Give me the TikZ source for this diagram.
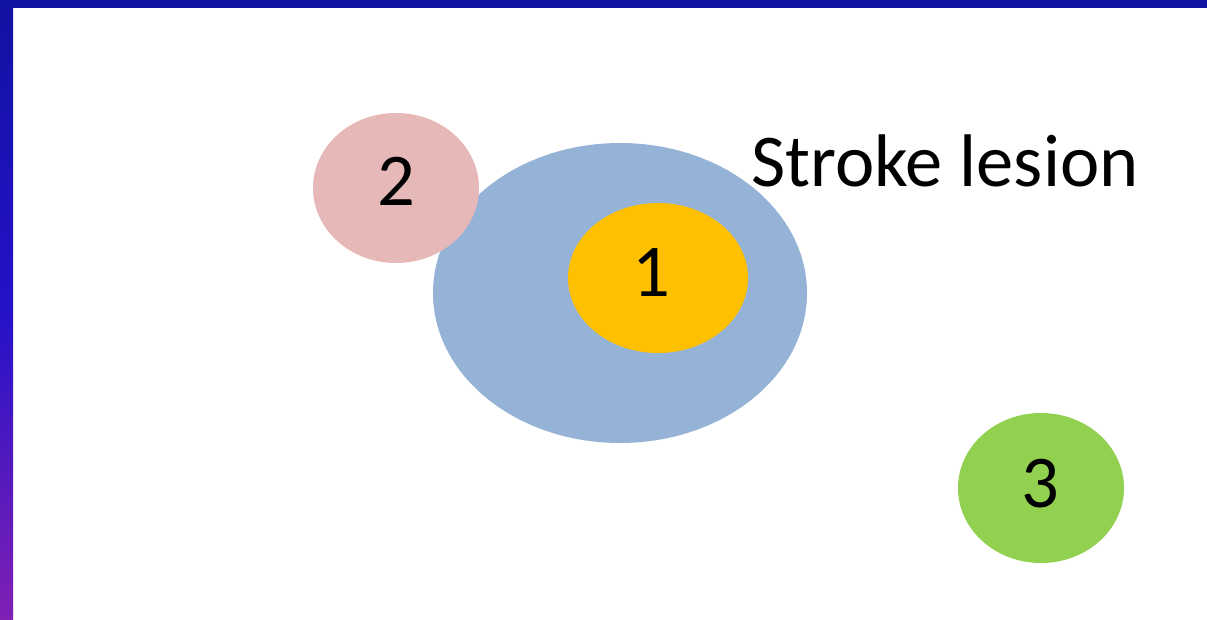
\documentclass[tikz,border=0pt]{standalone}
\usepackage{fontspec}
\setmainfont{Carlito}
\definecolor{barblue}{HTML}{1212A2}
\definecolor{barmid}{HTML}{2412C8}
\definecolor{barpurple}{HTML}{8020B4}
\definecolor{lesionblue}{HTML}{95B3D7}
\definecolor{coreorange}{HTML}{FFC000}
\definecolor{pinkarea}{HTML}{E6B9B8}
\definecolor{greenarea}{HTML}{92D050}
\tikzset{
  blob/.style={draw=none},
  lbl/.style={inner sep=0pt, font=\fontsize{74.5}{88}\selectfont, text=black}
}
\begin{document}
\begin{tikzpicture}[x=1pt,y=-1pt]
\useasboundingbox (0,0) rectangle (1207,620);
\fill[white] (0,0) rectangle (1207,620);
% frame bars
\shade[top color=barblue, bottom color=barpurple, middle color=barmid] (0,0) rectangle (13,620);
\fill[barblue] (0,0) rectangle (1207,8);
% ellipses
\fill[lesionblue, blob] (620,293) ellipse [x radius=187, y radius=150];
\fill[coreorange, blob] (658,278) ellipse [x radius=90, y radius=75];
\fill[pinkarea, blob] (396,188) ellipse [x radius=83, y radius=75];
\fill[greenarea, blob] (1041,488) ellipse [x radius=83, y radius=75];
% labels
\node[lbl, anchor=base] (one) at (651,297) {1};
\node[lbl, anchor=base] (two) at (396,206) {2};
\node[lbl, anchor=base] (three) at (1040,507) {3};
\node[lbl, anchor=base west] (title) at (751,187) {Stroke lesion};
\end{tikzpicture}
\end{document}
